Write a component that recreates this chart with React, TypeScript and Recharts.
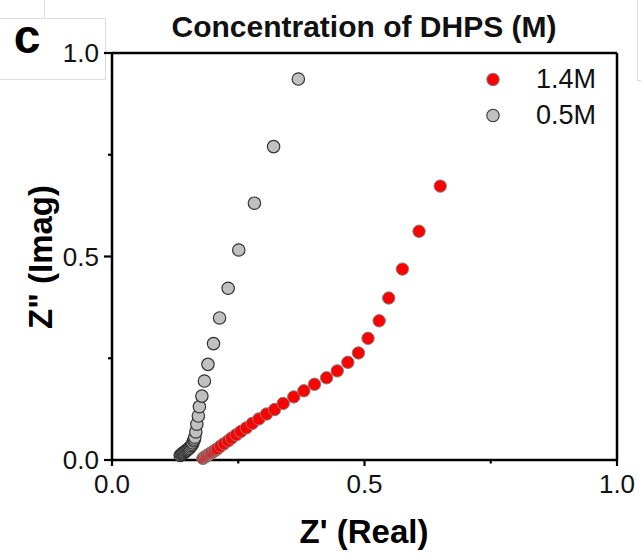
import React from "react";
import { ScatterChart, Scatter, XAxis, YAxis, ReferenceLine } from "recharts";

const realHigh = [
  0.18, 0.182, 0.185, 0.187, 0.19, 0.192, 0.195, 0.197, 0.2, 0.203, 0.206,
  0.209, 0.215, 0.222, 0.23, 0.237, 0.246, 0.255, 0.266, 0.278, 0.291, 0.306,
  0.322, 0.339, 0.36, 0.38, 0.401, 0.425, 0.446, 0.467, 0.488, 0.507, 0.529,
  0.548, 0.575, 0.608, 0.65,
];
const imagHigh = [
  0.004, 0.006, 0.008, 0.01, 0.012, 0.014, 0.016, 0.018, 0.02, 0.023, 0.025,
  0.028, 0.034, 0.04, 0.047, 0.054, 0.062, 0.07, 0.079, 0.09, 0.101, 0.113,
  0.124, 0.139, 0.155, 0.17, 0.186, 0.202, 0.219, 0.24, 0.263, 0.299, 0.342,
  0.398, 0.469, 0.562, 0.673,
];

const realLow = [
  0.135, 0.137, 0.139, 0.141, 0.143, 0.145, 0.147, 0.149, 0.151, 0.153, 0.155,
  0.157, 0.159, 0.16, 0.162, 0.163, 0.164, 0.166, 0.168, 0.171, 0.173, 0.178,
  0.183, 0.19, 0.201, 0.213, 0.23, 0.251, 0.282, 0.32, 0.369,
];
const imagLow = [
  0.011, 0.013, 0.015, 0.017, 0.019, 0.021, 0.023, 0.025, 0.027, 0.029, 0.032,
  0.035, 0.038, 0.042, 0.047, 0.051, 0.056, 0.069, 0.088, 0.108, 0.131, 0.157,
  0.194, 0.235, 0.286, 0.349, 0.422, 0.516, 0.631, 0.77, 0.936,
];

const seriesNames = ["1.4M", "0.5M"];
const axisTicks = [0, 0.25, 0.5, 0.75, 1];
const majorTicks = [0, 0.5, 1];

const toPoints = (xs: number[], ys: number[]) =>
  xs.map((x, i) => ({ x, y: ys[i] }));

const dataHigh = toPoints(realHigh, imagHigh);
const dataLow = toPoints(realLow, imagLow);

const FONT = '"Liberation Sans", Arial, sans-serif';

const redDot = (p: any) => (
  <circle cx={p.cx} cy={p.cy} r={6.2} fill="#ff0000" stroke="#7f7f7f" strokeWidth={1} />
);
const grayDot = (p: any) => (
  <circle cx={p.cx} cy={p.cy} r={6.2} fill="#c0c0c0" stroke="#333" strokeWidth={1.2} />
);

function XTick(props: any) {
  const { x, y, payload } = props;
  const major = majorTicks.includes(payload.value);
  return (
    <g>
      <line x1={x} x2={x} y1={y} y2={y + (major ? 6 : 3.5)} stroke="#000" strokeWidth={2.2} />
      {major && (
        <text x={x} y={y + 24} dy="0.36em" textAnchor="middle" fontSize={26} fill="#111" fontFamily={FONT}>
          {payload.value.toFixed(1)}
        </text>
      )}
    </g>
  );
}

function YTick(props: any) {
  const { x, y, payload } = props;
  const major = majorTicks.includes(payload.value);
  return (
    <g>
      <line x1={x - (major ? 8 : 4)} x2={x} y1={y} y2={y} stroke="#000" strokeWidth={2.2} />
      {major && (
        <text x={x - 13} y={y} dy="0.36em" textAnchor="end" fontSize={26} fill="#111" fontFamily={FONT}>
          {payload.value.toFixed(1)}
        </text>
      )}
    </g>
  );
}

export default function App() {
  return (
    <div
      style={{
        position: "absolute",
        left: 0,
        top: 0,
        width: 641,
        height: 556,
        background: "#fff",
        fontFamily: FONT,
        overflow: "hidden",
      }}
    >
      {/* faint crop boxes from the source figure */}
      <div style={{ position: "absolute", left: -1, top: 18, width: 105, height: 60, border: "1px solid #dcdcdc" }} />
      <div style={{ position: "absolute", left: 44, top: 0, width: 1, height: 18, background: "#dcdcdc" }} />
      <div style={{ position: "absolute", left: 637, top: -1, width: 10, height: 80, border: "1px solid #dcdcdc" }} />

      <ScatterChart
        width={641}
        height={556}
        margin={{ top: 53, right: 24, bottom: 36, left: 52 }}
        style={{ position: "absolute", left: 0, top: 0 }}
      >
        <XAxis
          type="number"
          dataKey="x"
          domain={[0, 1]}
          ticks={axisTicks}
          height={60}
          tickSize={0}
          tickMargin={0}
          tickLine={false}
          axisLine={{ stroke: "#000", strokeWidth: 2.5 }}
          tick={<XTick />}
          interval={0}
        />
        <YAxis
          type="number"
          dataKey="y"
          domain={[0, 1]}
          ticks={axisTicks}
          width={60}
          tickSize={0}
          tickMargin={0}
          tickLine={false}
          axisLine={{ stroke: "#000", strokeWidth: 2.5 }}
          tick={<YTick />}
          interval={0}
        />
        <ReferenceLine y={1} stroke="#000" strokeWidth={2.5} />
        <ReferenceLine x={1} stroke="#000" strokeWidth={2.5} />
        <Scatter name={seriesNames[1]} data={dataLow} shape={grayDot} isAnimationActive={false} />
        <Scatter name={seriesNames[0]} data={dataHigh} shape={redDot} isAnimationActive={false} />
      </ScatterChart>

      <div
        style={{
          position: "absolute",
          left: 364,
          top: 27,
          transform: "translate(-50%, -50%)",
          fontSize: 30,
          fontWeight: "bold",
          lineHeight: 1,
          whiteSpace: "nowrap",
          color: "#111",
        }}
      >
        Concentration of DHPS (M)
      </div>

      <div
        style={{
          position: "absolute",
          left: 27,
          top: 37,
          transform: "translate(-50%, -50%)",
          fontSize: 48,
          fontWeight: "bold",
          lineHeight: 1,
          color: "#000",
        }}
      >
        c
      </div>

      <div
        style={{
          position: "absolute",
          left: 364,
          top: 531,
          transform: "translate(-50%, -50%)",
          fontSize: 33,
          fontWeight: "bold",
          lineHeight: 1,
          whiteSpace: "nowrap",
          color: "#000",
        }}
      >
        Z' (Real)
      </div>

      <div
        style={{
          position: "absolute",
          left: 40,
          top: 257,
          transform: "translate(-50%, -50%) rotate(-90deg)",
          fontSize: 33,
          fontWeight: "bold",
          lineHeight: 1,
          whiteSpace: "nowrap",
          color: "#000",
        }}
      >
        Z" (Imag)
      </div>

      {seriesNames.map((name, i) => (
        <div
          key={name}
          style={{
            position: "absolute",
            left: 484,
            top: 79 + i * 36,
            transform: "translateY(-50%)",
            display: "flex",
            alignItems: "center",
            fontSize: 27,
            lineHeight: 1,
            color: "#111",
          }}
        >
          <svg width={18} height={18} style={{ marginRight: 34 }}>
            <circle
              cx={9}
              cy={9}
              r={6.2}
              fill={i === 0 ? "#ff0000" : "#c0c0c0"}
              stroke={i === 0 ? "#7f7f7f" : "#333"}
              strokeWidth={1.1}
            />
          </svg>
          {name}
        </div>
      ))}
    </div>
  );
}
